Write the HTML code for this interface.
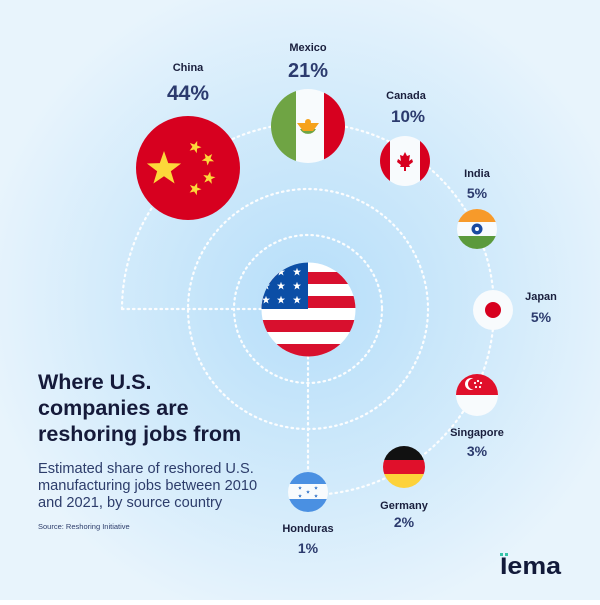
<!DOCTYPE html>
<html><head><meta charset="utf-8"><style>
html,body{margin:0;padding:0}
body{width:600px;height:600px;overflow:hidden;font-family:"Liberation Sans",sans-serif;}
</style></head><body>
<svg width="600" height="600" viewBox="0 0 600 600" xmlns="http://www.w3.org/2000/svg" font-family="Liberation Sans, sans-serif">
<defs>
<radialGradient id="bg" cx="308" cy="300" r="330" gradientUnits="userSpaceOnUse">
<stop offset="0" stop-color="#b6def9"/>
<stop offset="0.6" stop-color="#d3ebfb"/>
<stop offset="1" stop-color="#e8f4fc"/>
</radialGradient>
<clipPath id="cUS"><circle cx="308.5" cy="309.5" r="47"/></clipPath>
<clipPath id="cCN"><circle cx="188" cy="168" r="52"/></clipPath>
<clipPath id="cMX"><circle cx="308" cy="126" r="37"/></clipPath>
<clipPath id="cCA"><circle cx="405" cy="161" r="25"/></clipPath>
<clipPath id="cIN"><circle cx="477" cy="229" r="20"/></clipPath>
<clipPath id="cSG"><circle cx="477" cy="395" r="21"/></clipPath>
<clipPath id="cDE"><circle cx="404" cy="467" r="21"/></clipPath>
<clipPath id="cHN"><circle cx="308" cy="492" r="20"/></clipPath>
<polygon id="st" points="0,-1 0.235,-0.324 0.951,-0.309 0.38,0.124 0.588,0.809 0,0.4 -0.588,0.809 -0.38,0.124 -0.951,-0.309 -0.235,-0.324"/>
</defs>
<rect width="600" height="600" fill="url(#bg)"/>
<g fill="none" stroke="#fff" stroke-width="2.2" stroke-dasharray="1.5 4" stroke-linecap="round" opacity="0.95">
<circle cx="308" cy="309" r="74"/>
<circle cx="308" cy="309" r="120"/>
<path d="M122 309 A186 186 0 1 1 308 495"/>
<line x1="122" y1="309" x2="262" y2="309"/>
<line x1="308" y1="357" x2="308" y2="472"/>
</g>
<!-- US -->
<g clip-path="url(#cUS)">
<rect x="260" y="260" width="100" height="100" fill="#fff"/>
<g fill="#d8102e"><rect x="260" y="272" width="100" height="12"/><rect x="260" y="296" width="100" height="12"/><rect x="260" y="320" width="100" height="12"/><rect x="260" y="344" width="100" height="14"/></g>
<rect x="260" y="260" width="48" height="49" fill="#0b4ea6"/>
<g fill="#fff">
<use href="#st" transform="translate(266,272) scale(4.3)"/><use href="#st" transform="translate(281,272) scale(4.3)"/><use href="#st" transform="translate(297,272) scale(4.3)"/>
<use href="#st" transform="translate(266,286) scale(4.3)"/><use href="#st" transform="translate(281,286) scale(4.3)"/><use href="#st" transform="translate(297,286) scale(4.3)"/>
<use href="#st" transform="translate(266,300) scale(4.3)"/><use href="#st" transform="translate(281,300) scale(4.3)"/><use href="#st" transform="translate(297,300) scale(4.3)"/>
</g></g>
<!-- China -->
<g clip-path="url(#cCN)"><rect x="130" y="110" width="120" height="120" fill="#d7001f"/>
<g fill="#fcd83a"><use href="#st" transform="translate(164,169) scale(18)"/>
<use href="#st" transform="translate(195,147) scale(6.5) rotate(20)"/><use href="#st" transform="translate(208,159) scale(6.5) rotate(40)"/>
<use href="#st" transform="translate(209,178) scale(6.5) rotate(10)"/><use href="#st" transform="translate(195,189) scale(6.5) rotate(20)"/></g></g>
<!-- Mexico -->
<g clip-path="url(#cMX)"><rect x="270" y="88" width="26" height="76" fill="#6fa444"/><rect x="296" y="88" width="28" height="76" fill="#f8fbfd"/><rect x="324" y="88" width="22" height="76" fill="#d7001f"/>
<path d="M300 129 A9 9 0 0 0 316 129 Z" fill="#6fa444"/><path d="M297 123 L319 123 L313 131 L303 131 Z" fill="#f6a21b"/><circle cx="308" cy="122" r="3" fill="#f6a21b"/></g>
<!-- Canada -->
<g clip-path="url(#cCA)"><rect x="378" y="134" width="54" height="54" fill="#f8fbfd"/><rect x="378" y="134" width="12" height="54" fill="#d7001f"/><rect x="420" y="134" width="12" height="54" fill="#d7001f"/>
<path d="M405 152 l2 4 3-1-1 6 3-2 1 3-4 3 1 2h-4v4h-2v-4h-4l1-2-4-3 1-3 3 2-1-6 3 1z" fill="#d7001f"/></g>
<!-- India -->
<g clip-path="url(#cIN)"><rect x="455" y="207" width="44" height="44" fill="#f8fbfd"/><rect x="455" y="207" width="44" height="15" fill="#f79a2a"/><rect x="455" y="236" width="44" height="16" fill="#5b9a3c"/>
<circle cx="477" cy="229" r="5.5" fill="#1a4aa0"/><circle cx="477" cy="229" r="2" fill="#fff"/></g>
<!-- Japan -->
<circle cx="493" cy="310" r="20" fill="#f8fbfd"/><circle cx="493" cy="310" r="8" fill="#d7001f"/>
<!-- Singapore -->
<g clip-path="url(#cSG)"><rect x="455" y="373" width="44" height="44" fill="#f8fbfd"/><rect x="455" y="373" width="44" height="22" fill="#e0102b"/>
<circle cx="471" cy="384" r="6" fill="#fff"/><circle cx="473.5" cy="384" r="5.5" fill="#e0102b"/>
<g fill="#fff"><circle cx="478" cy="381" r="1.1"/><circle cx="481" cy="383" r="1.1"/><circle cx="480" cy="387" r="1.1"/><circle cx="476" cy="387" r="1.1"/><circle cx="475" cy="383" r="1.1"/></g></g>
<!-- Germany -->
<g clip-path="url(#cDE)"><rect x="382" y="445" width="44" height="15" fill="#111"/><rect x="382" y="460" width="44" height="14" fill="#e0102b"/><rect x="382" y="474" width="44" height="16" fill="#fdd23a"/></g>
<!-- Honduras -->
<g clip-path="url(#cHN)"><rect x="286" y="470" width="44" height="44" fill="#f8fbfd"/><rect x="286" y="470" width="44" height="14" fill="#4a90e2"/><rect x="286" y="499" width="44" height="15" fill="#4a90e2"/>
<g fill="#2f72c8"><use href="#st" transform="translate(300,488) scale(2)"/><use href="#st" transform="translate(316,488) scale(2)"/><use href="#st" transform="translate(308,492) scale(2)"/><use href="#st" transform="translate(300,496) scale(2)"/><use href="#st" transform="translate(316,496) scale(2)"/></g></g>
<!-- labels -->
<g text-anchor="middle">
<g font-size="11" font-weight="bold" fill="#1a1f3d">
<text x="188" y="71">China</text><text x="308" y="51">Mexico</text><text x="406" y="99">Canada</text><text x="477" y="177">India</text>
<text x="541" y="300">Japan</text><text x="477" y="436">Singapore</text><text x="404" y="509">Germany</text><text x="308" y="532">Honduras</text></g>
<g fill="#2c3b6e" font-weight="bold">
<text x="188" y="100" font-size="21">44%</text><text x="308" y="77" font-size="20">21%</text><text x="408" y="122" font-size="17">10%</text>
<text x="477" y="198" font-size="14">5%</text><text x="541" y="322" font-size="14">5%</text><text x="477" y="456" font-size="14">3%</text>
<text x="404" y="527" font-size="14">2%</text><text x="308" y="553" font-size="14">1%</text></g>
</g>
<g fill="#151a3a" font-weight="bold" font-size="21.5">
<text x="38" y="389">Where U.S.</text><text x="38" y="415">companies are</text><text x="38" y="441">reshoring jobs from</text></g>
<g fill="#2d3d6b" font-size="14.6"><text x="38" y="473">Estimated share of reshored U.S.</text><text x="38" y="490">manufacturing jobs between 2010</text><text x="38" y="507">and 2021, by source country</text></g>
<text x="38" y="529" font-size="7.5" fill="#2d3d6b">Source: Reshoring Initiative</text>
<rect x="500" y="553" width="3" height="3" fill="#36c4a8"/><rect x="505" y="553" width="3" height="3" fill="#36c4a8"/>
<text x="500" y="574" font-size="24" font-weight="bold" fill="#121a3a" textLength="61" lengthAdjust="spacingAndGlyphs">Iema</text>
</svg>
</body></html>
